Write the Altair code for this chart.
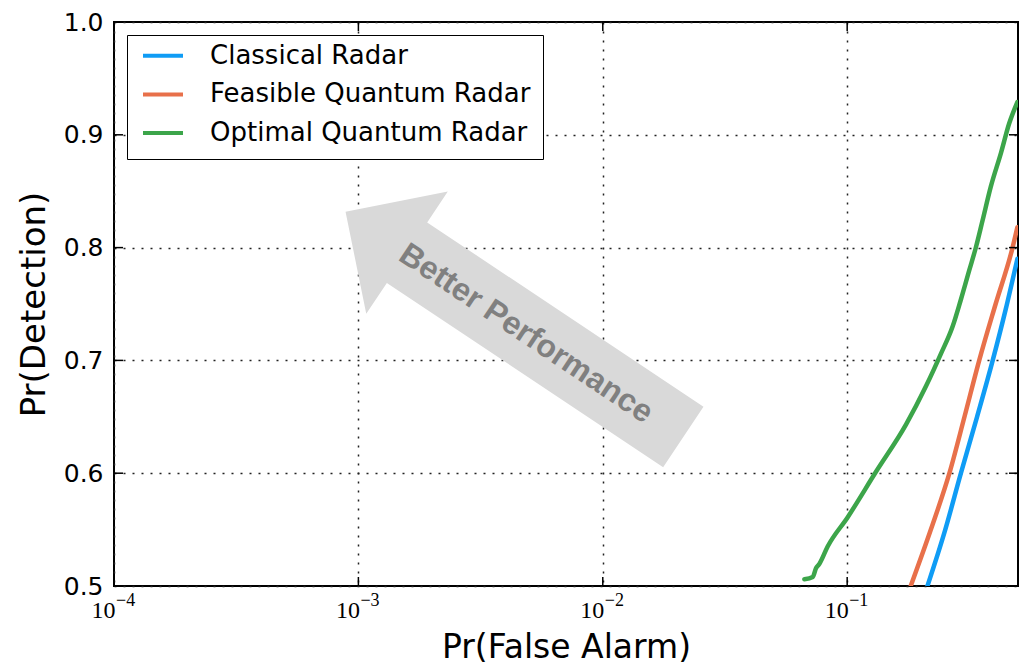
import altair as alt
import pandas as pd

# ---------------- data ----------------
SERIES = ["Classical Radar", "Feasible Quantum Radar", "Optimal Quantum Radar"]
COLORS = ["#0f9cf5", "#e8704a", "#3ca54a"]

classical_pfa = [0.213, 0.252, 0.292, 0.340, 0.394, 0.445, 0.497]
classical_pd = [0.500, 0.550, 0.600, 0.650, 0.700, 0.745, 0.790]

feasible_pfa = [0.182, 0.220, 0.262, 0.302, 0.347, 0.405, 0.475, 0.497]
feasible_pd = [0.500, 0.550, 0.600, 0.650, 0.700, 0.750, 0.800, 0.818]

optimal_pfa = [0.0668, 0.0723, 0.0746, 0.0769, 0.0832, 0.1005, 0.131, 0.174,
               0.210, 0.242, 0.270, 0.292, 0.316, 0.337, 0.358, 0.387,
               0.426, 0.460, 0.497]
optimal_pd = [0.506, 0.508, 0.516, 0.5195, 0.535, 0.561, 0.601, 0.643,
              0.677, 0.706, 0.730, 0.754, 0.780, 0.801, 0.824, 0.854,
              0.884, 0.910, 0.929]

X_TICKS = [1e-4, 1e-3, 1e-2, 1e-1]
X_TICK_BASE = ["10", "10", "10", "10"]
X_TICK_EXP = ["\u22124", "\u22123", "\u22122", "\u22121"]
Y_TICKS = [0.5, 0.6, 0.7, 0.8, 0.9, 1.0]
X_DOMAIN = [1e-4, 0.5]
Y_DOMAIN = [0.5, 1.0]

# annotation: "Better Performance" arrow (centre in data units, angle in degrees)
ARROW_TEXT = ["Better Performance"]
ARROW_X = [0.00435]
ARROW_Y = [0.732]
TEXT_X = [0.00486]
TEXT_Y = [0.724]
ARROW_ANGLE = 33.7

# ---------------- build tables ----------------
rows = []
for name, xs, ys in [(SERIES[0], classical_pfa, classical_pd),
                     (SERIES[1], feasible_pfa, feasible_pd),
                     (SERIES[2], optimal_pfa, optimal_pd)]:
    for i, (a, b) in enumerate(zip(xs, ys)):
        rows.append({"series": name, "pfa": a, "pd": b, "i": i})
df = pd.DataFrame(rows)

arrow_df = pd.DataFrame({"x": ARROW_X, "y": ARROW_Y})
text_df = pd.DataFrame({"x": TEXT_X, "y": TEXT_Y, "t": ARROW_TEXT})
xt_df = pd.DataFrame({"x": X_TICKS, "base": X_TICK_BASE, "exp": X_TICK_EXP})
yt_df = pd.DataFrame({"y": Y_TICKS})

W, H = 904, 564

xscale = alt.Scale(type="log", domain=X_DOMAIN, nice=False)
yscale = alt.Scale(domain=Y_DOMAIN, nice=False, zero=False)

grid_dash = [2, 7]

xaxis = alt.Axis(
    values=X_TICKS, labelExpr="'10'", title="Pr(False Alarm)",
    grid=True, gridColor="#222222", gridDash=grid_dash, gridWidth=1.5, gridOpacity=1,
    ticks=False, tickSize=0, domain=False,
    labelFont="Liberation Serif", labelFontSize=24, labelColor="black", labelPadding=12,
    labelAlign="right", labelOffset=1, labelFlush=False,
    titleFont="DejaVu Sans", titleFontSize=33, titleFontWeight="normal", titleColor="black",
    titlePadding=9,
)
yaxis = alt.Axis(
    values=Y_TICKS, format=".1f", title="Pr(Detection)",
    grid=True, gridColor="#222222", gridDash=grid_dash, gridWidth=1.5, gridOpacity=1,
    ticks=False, tickSize=0, domain=False,
    labelFont="DejaVu Sans", labelFontSize=25, labelColor="black", labelPadding=11,
    labelFlush=False,
    titleFont="DejaVu Sans", titleFontSize=34, titleFontWeight="normal", titleColor="black",
    titlePadding=12,
)

base_axes = alt.Chart(df).mark_line(opacity=0).encode(
    x=alt.X("pfa:Q", scale=xscale, axis=xaxis),
    y=alt.Y("pd:Q", scale=yscale, axis=yaxis),
    detail="series:N",
)

# superscript exponents of the x tick labels
exps = alt.Chart(xt_df).mark_text(
    font="Liberation Serif", fontSize=18, color="black", align="left",
    baseline="alphabetic", dx=2,
).encode(
    x=alt.X("x:Q", scale=xscale),
    y=alt.value(H + 20),
    text="exp:N",
)

arrow_path = ("M -1 0 L -0.636 -0.362 L -0.636 -0.179 L 1 -0.179 L 1 0.179 "
              "L -0.636 0.179 L -0.636 0.362 Z")
arrow = alt.Chart(arrow_df).mark_point(
    shape=arrow_path, size=406 * 406, angle=ARROW_ANGLE, filled=True,
    color="#d9d9d9", opacity=1, strokeWidth=0,
).encode(
    x=alt.X("x:Q", scale=xscale),
    y=alt.Y("y:Q", scale=yscale),
)

label = alt.Chart(text_df).mark_text(
    angle=ARROW_ANGLE, font="Liberation Sans", fontSize=32, fontWeight="bold",
    color="#808080", align="center", baseline="middle",
).encode(
    x=alt.X("x:Q", scale=xscale),
    y=alt.Y("y:Q", scale=yscale),
    text="t:N",
)

lines = alt.Chart(df).mark_line(
    strokeWidth=4.5, clip=True, strokeCap="round", interpolate="monotone"
).encode(
    x=alt.X("pfa:Q", scale=xscale),
    y=alt.Y("pd:Q", scale=yscale),
    color=alt.Color(
        "series:N",
        scale=alt.Scale(domain=SERIES, range=COLORS),
        legend=alt.Legend(
            title=None, orient="top-left", offset=13,
            labelFont="DejaVu Sans", labelFontSize=26, labelColor="black", labelLimit=0,
            symbolType="stroke", symbolStrokeWidth=4, symbolSize=1600,
            strokeColor="black", fillColor="white", padding=12,
            clipHeight=17.4, rowPadding=11.7, labelOffset=25, symbolOffset=2,
        ),
    ),
    order="i:Q",
)

TL = 9
tick_bottom = alt.Chart(xt_df).mark_rule(color="black", strokeWidth=1.5).encode(
    x=alt.X("x:Q", scale=xscale), y=alt.value(H), y2=alt.value(H - TL))
tick_top = alt.Chart(xt_df).mark_rule(color="black", strokeWidth=1.5).encode(
    x=alt.X("x:Q", scale=xscale), y=alt.value(0), y2=alt.value(TL))
tick_left = alt.Chart(yt_df).mark_rule(color="black", strokeWidth=1.5).encode(
    y=alt.Y("y:Q", scale=yscale), x=alt.value(0), x2=alt.value(TL))
tick_right = alt.Chart(yt_df).mark_rule(color="black", strokeWidth=1.5).encode(
    y=alt.Y("y:Q", scale=yscale), x=alt.value(W - TL), x2=alt.value(W))

chart = alt.layer(
    base_axes, arrow, label, lines, exps, tick_bottom, tick_top, tick_left, tick_right
).properties(
    width=W, height=H,
    autosize=alt.AutoSizeParams(type="none"),
    padding={"left": 114, "top": 22, "right": 9, "bottom": 79},
    background="white",
).configure_view(
    stroke="black", strokeWidth=2,
)

chart.save("out.html", embed_options={"renderer": "svg", "actions": False})
